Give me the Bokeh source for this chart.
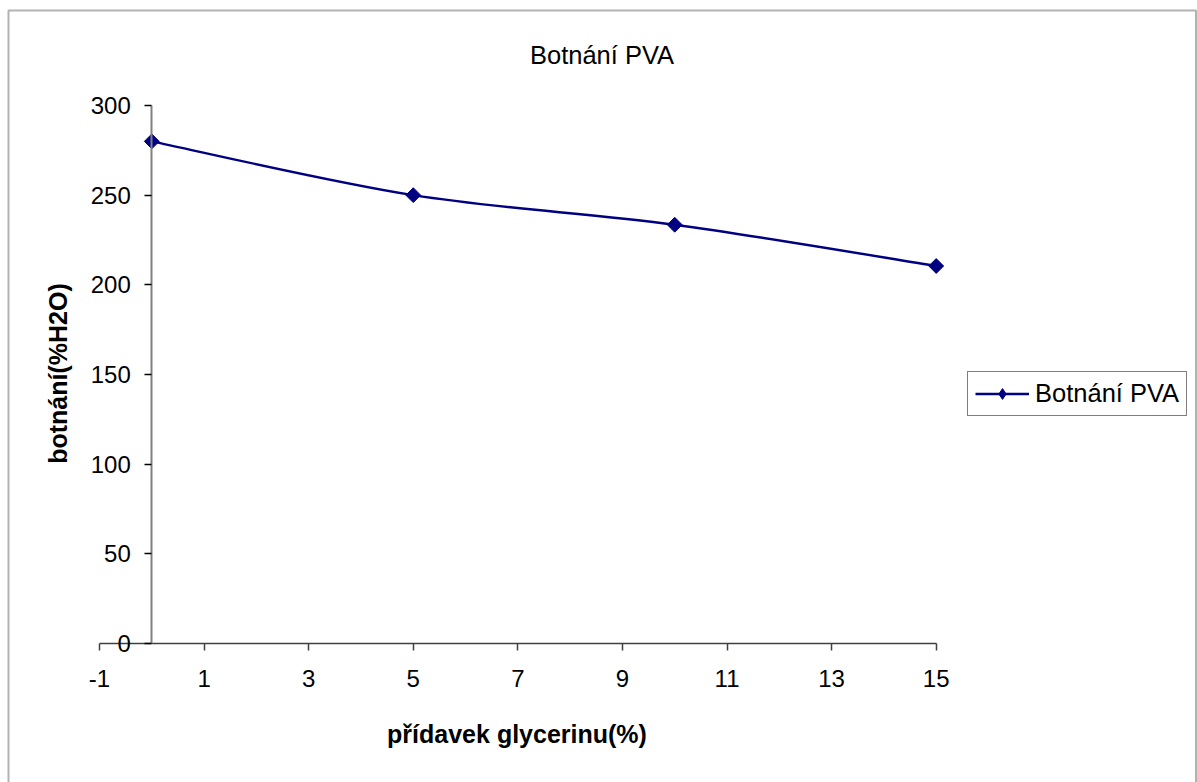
import numpy as np
from bokeh.plotting import figure
from bokeh.models import (FixedTicker, LinearAxis, Label, Legend, LegendItem,
                          BoxAnnotation, ColumnDataSource, Range1d)
from bokeh.embed import file_html
from bokeh.resources import INLINE

# ---- data ----
glycerin = [0, 5, 10, 15]            # přídavek glycerinu (%)
swelling = [280, 250, 233.5, 210.5]  # botnání (% H2O)
x_ticks = [-1, 1, 3, 5, 7, 9, 11, 13, 15]
y_ticks = [0, 50, 100, 150, 200, 250, 300]
series_name = "Botnání PVA"
title_text = "Botnání PVA"
x_label = "přídavek glycerinu(%)"
y_label = "botnání(%H2O)"

FONT = "Liberation Sans"
NAVY = "#000080"
W, H = 1197, 782

# pixel layout of the plot area (x=-1 at px 99, x=15 at px 935.7; y=0 at 643, y=300 at 105)
XPX = (935.7 - 99.0) / 16.0
YPX = (643.0 - 105.0) / 300.0
x_start = -1 - 99.0 / XPX
x_end = x_start + W / XPX
y_end = 300 + 105.0 / YPX
y_start = y_end - H / YPX


def px_x(px):
    return x_start + px / XPX


def px_y(py):
    return y_end - py / YPX


p = figure(width=W, height=H, output_backend="svg", toolbar_location=None,
           title=None, x_range=Range1d(x_start, x_end), y_range=Range1d(y_start, y_end),
           min_border=0, x_axis_location=None, y_axis_location=None)
p.xgrid.visible = False
p.ygrid.visible = False
p.outline_line_color = None
p.background_fill_color = "white"
p.border_fill_color = "white"

# x axis along y = 0
xa = LinearAxis(ticker=FixedTicker(ticks=x_ticks), fixed_location=0, bounds=(-1, 15),
                major_label_overrides={-1: "-1"})
xa.axis_line_color = "#404040"
xa.axis_line_width = 1.5
xa.major_tick_line_color = "#404040"
xa.major_tick_line_width = 1.5
xa.major_tick_out = 7
xa.major_tick_in = 0
xa.minor_tick_line_color = None
xa.major_label_text_font = FONT
xa.major_label_text_font_size = "24px"
xa.major_label_text_color = "black"
xa.major_label_standoff = 19
p.add_layout(xa, "below")

# y axis crossing at x = 0
ya = LinearAxis(ticker=FixedTicker(ticks=y_ticks), fixed_location=0, bounds=(0, 300))
ya.axis_line_color = "#808080"
ya.axis_line_width = 2
ya.major_tick_line_color = "black"
ya.major_tick_line_width = 1.3
ya.major_tick_out = 7
ya.major_tick_in = 0
ya.minor_tick_line_color = None
ya.major_label_text_font = FONT
ya.major_label_text_font_size = "24px"
ya.major_label_text_color = "black"
ya.major_label_standoff = 14
p.add_layout(ya, "left")

# smoothed line (cubic Bezier, Catmull-Rom control points from the data)
xs = np.array(glycerin, dtype=float)
ys = np.array(swelling, dtype=float)
xp = np.concatenate([[xs[0]], xs, [xs[-1]]])
yp = np.concatenate([[ys[0]], ys, [ys[-1]]])
n = len(xs) - 1
src = ColumnDataSource(dict(
    x0=xs[:-1], y0=ys[:-1], x1=xs[1:], y1=ys[1:],
    cx0=xs[:-1] + (xp[2:n + 2] - xp[0:n]) / 6.0,
    cy0=ys[:-1] + (yp[2:n + 2] - yp[0:n]) / 6.0,
    cx1=xs[1:] - (xp[3:n + 3] - xp[1:n + 1]) / 6.0,
    cy1=ys[1:] - (yp[3:n + 3] - yp[1:n + 1]) / 6.0,
))
curve = p.bezier(x0="x0", y0="y0", x1="x1", y1="y1", cx0="cx0", cy0="cy0",
                 cx1="cx1", cy1="cy1", source=src, line_color=NAVY, line_width=2.4)
# diamond markers (square turned by 45 degrees)
pts = p.scatter(glycerin, swelling, marker="square", size=10.5, angle=np.pi / 4,
                fill_color=NAVY, line_color=NAVY)
# legend swatch marker (legend glyphs ignore marker rotation)
key = p.scatter(glycerin, swelling, marker="diamond", size=0,
                fill_color=NAVY, line_color=NAVY)

legend = Legend(items=[LegendItem(label=series_name, renderers=[curve, key])],
                location=(967, H - 416))
legend.label_text_font = FONT
legend.label_text_font_size = "25.5px"
legend.label_text_color = "black"
legend.border_line_color = "black"
legend.border_line_width = 1
legend.background_fill_color = "white"
legend.padding = 7
legend.margin = 0
legend.spacing = 0
legend.glyph_width = 54
legend.glyph_height = 27
legend.label_standoff = 6
legend.label_height = 27
p.add_layout(legend, "center")

# title
p.add_layout(Label(x=px_x(601.5), y=px_y(54), text=title_text,
                   text_font=FONT, text_font_size="25.5px", text_color="black",
                   text_align="center", text_baseline="alphabetic"))

# axis titles
p.add_layout(Label(x=px_x(516.5), y=px_y(733), text=x_label,
                   text_font=FONT, text_font_size="25px", text_font_style="bold",
                   text_color="black", text_align="center", text_baseline="alphabetic"))
p.add_layout(Label(x=px_x(57), y=px_y(373), text=y_label,
                   angle=np.pi / 2, text_font=FONT, text_font_size="25px",
                   text_font_style="bold", text_color="black",
                   text_align="center", text_baseline="middle"))

# chart border
p.add_layout(BoxAnnotation(left=px_x(8), right=px_x(1195.5), top=px_y(10), bottom=px_y(820),
                           fill_alpha=0, line_color="black", line_width=2))

open("out.html", "w").write(file_html(p, INLINE))
